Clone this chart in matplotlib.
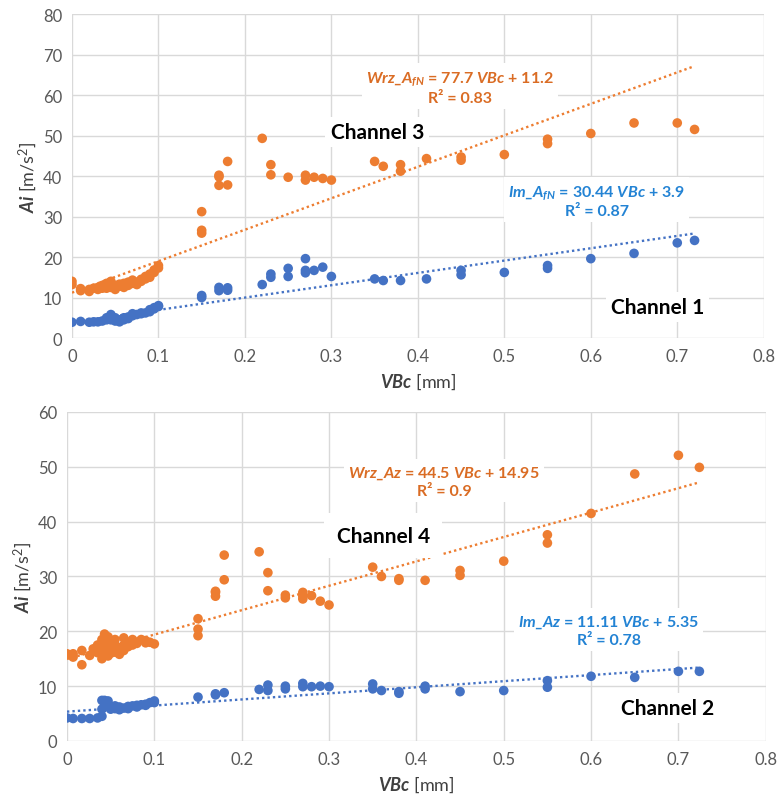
import matplotlib
matplotlib.use("Agg")
import matplotlib.pyplot as plt
import numpy as np

plt.rcParams['font.family'] = ['Lato', 'DejaVu Sans']
plt.rcParams['mathtext.fontset'] = 'custom'
plt.rcParams['mathtext.rm'] = 'Lato'
plt.rcParams['mathtext.it'] = 'Lato:italic'
plt.rcParams['mathtext.bf'] = 'Lato:bold'
plt.rcParams['mathtext.bfit'] = 'Lato:bold:italic'

# ---------------- data: top chart (Channel 3 / Channel 1) ----------------
top_wrz_x = [0, 0, 0.01, 0.01, 0.02, 0.02, 0.025, 0.03, 0.03, 0.035, 0.035,
             0.04, 0.04, 0.04, 0.045, 0.045, 0.045, 0.05, 0.05, 0.05, 0.055, 0.055,
             0.06, 0.06, 0.065, 0.065, 0.07, 0.07, 0.075, 0.075, 0.08, 0.08,
             0.085, 0.085, 0.09, 0.09, 0.095, 0.095, 0.1, 0.1,
             0.15, 0.15, 0.15, 0.17, 0.17, 0.17, 0.18, 0.18, 0.22, 0.23, 0.23,
             0.25, 0.27, 0.27, 0.28, 0.29, 0.30, 0.35, 0.36, 0.38, 0.38, 0.41,
             0.45, 0.45, 0.5, 0.55, 0.55, 0.6, 0.65, 0.70, 0.72]
top_wrz_y = [13.2, 14.0, 11.7, 12.2, 11.5, 12.0, 12.3, 12.5, 12.0, 13.0, 12.3,
             13.5, 12.8, 12.3, 14.0, 13.2, 12.5, 13.0, 12.0, 12.6, 12.8, 13.3,
             12.5, 13.5, 13.0, 13.8, 13.5, 14.3, 13.8, 13.2, 14.5, 14.0,
             14.6, 15.2, 15.0, 15.8, 16.2, 16.8, 17.3, 17.9,
             31.2, 26.6, 25.9, 39.8, 37.7, 40.2, 43.6, 37.8, 49.3, 42.8, 40.3,
             39.7, 40.2, 39.0, 39.7, 39.4, 39.0, 43.6, 42.4, 42.8, 41.2, 44.3,
             44.7, 43.9, 45.3, 49.1, 48.0, 50.5, 53.1, 53.1, 51.5]

top_im_x = [0, 0.01, 0.02, 0.025, 0.03, 0.035, 0.04, 0.04, 0.045, 0.045, 0.045,
            0.05, 0.05, 0.055, 0.055, 0.06, 0.06, 0.065, 0.065, 0.07, 0.07, 0.075,
            0.08, 0.08, 0.085, 0.09, 0.09, 0.095, 0.095, 0.1, 0.1,
            0.15, 0.15, 0.17, 0.17, 0.18, 0.18, 0.22, 0.23, 0.23, 0.25, 0.25,
            0.27, 0.27, 0.27, 0.28, 0.29, 0.30, 0.35, 0.36, 0.38, 0.41,
            0.45, 0.45, 0.5, 0.55, 0.55, 0.6, 0.65, 0.70, 0.72]
top_im_y = [3.9, 4.1, 3.9, 4.0, 4.0, 4.2, 4.5, 5.0, 5.8, 5.2, 4.5,
            5.0, 4.2, 4.5, 4.0, 4.5, 5.0, 5.2, 4.8, 5.5, 6.0, 5.8,
            6.0, 6.2, 6.2, 6.5, 7.0, 7.5, 7.2, 8.0, 7.8,
            10.5, 10.0, 12.5, 11.7, 12.4, 11.8, 13.2, 15.8, 15.0, 17.2, 15.2,
            19.6, 16.7, 16.1, 16.7, 17.5, 15.2, 14.6, 14.2, 14.2, 14.6,
            16.7, 15.6, 16.2, 17.9, 17.2, 19.6, 20.9, 23.5, 24.1]

# ---------------- data: bottom chart (Channel 4 / Channel 2) ----------------
bot_wrz_x = [0, 0.007, 0.007, 0.017, 0.017, 0.026, 0.03, 0.035, 0.035,
             0.04, 0.04, 0.04, 0.043, 0.043, 0.043, 0.047, 0.047, 0.047,
             0.05, 0.05, 0.05, 0.055, 0.055, 0.055, 0.06, 0.06, 0.065, 0.065, 0.065,
             0.07, 0.07, 0.075, 0.075, 0.08, 0.08, 0.085, 0.09, 0.09, 0.095, 0.1,
             0.15, 0.15, 0.15, 0.17, 0.17, 0.17, 0.18, 0.18, 0.22, 0.23, 0.23,
             0.25, 0.25, 0.27, 0.27, 0.27, 0.28, 0.29, 0.30, 0.35, 0.36, 0.38, 0.38,
             0.41, 0.45, 0.45, 0.5, 0.55, 0.55, 0.6, 0.65, 0.70, 0.724]
bot_wrz_y = [15.9, 15.9, 15.3, 16.5, 13.9, 15.6, 16.8, 16.1, 17.5,
             15.0, 18.5, 17.0, 19.5, 18.8, 16.5, 19.0, 17.8, 15.5,
             18.0, 16.8, 16.0, 17.5, 16.2, 18.5, 17.0, 15.8, 18.8, 17.5, 16.5,
             18.0, 17.2, 18.5, 17.5, 18.0, 17.8, 18.5, 18.3, 17.9, 18.0, 17.7,
             22.3, 20.4, 19.2, 27.1, 26.4, 27.3, 33.9, 29.4, 34.5, 30.7, 27.4,
             26.6, 26.1, 27.1, 26.4, 25.9, 26.5, 25.5, 24.8, 31.7, 30.0, 29.6, 29.3,
             29.3, 31.1, 30.2, 32.8, 37.6, 36.1, 41.5, 48.7, 52.1, 49.9]

bot_im_x = [0, 0.007, 0.017, 0.026, 0.035, 0.04, 0.04, 0.04, 0.043, 0.043, 0.043,
            0.047, 0.047, 0.05, 0.05, 0.055, 0.055, 0.06, 0.06, 0.065, 0.07, 0.07,
            0.075, 0.08, 0.08, 0.085, 0.09, 0.09, 0.095, 0.1, 0.1,
            0.15, 0.17, 0.17, 0.18, 0.22, 0.23, 0.23, 0.25, 0.25, 0.27, 0.27,
            0.28, 0.29, 0.30, 0.35, 0.35, 0.36, 0.38, 0.38, 0.41, 0.41, 0.45,
            0.5, 0.55, 0.55, 0.6, 0.65, 0.70, 0.724]
bot_im_y = [4.2, 4.1, 4.1, 4.1, 4.2, 4.5, 5.8, 7.4, 7.4, 6.8, 6.2,
            7.3, 6.5, 6.2, 5.8, 6.4, 5.9, 6.2, 5.7, 6.0, 6.3, 5.9,
            6.4, 6.5, 6.2, 6.6, 6.7, 6.5, 7.0, 7.3, 7.0,
            8.0, 8.6, 8.4, 8.8, 9.4, 10.2, 9.2, 10.0, 9.5, 10.5, 9.9,
            9.9, 10.0, 9.9, 10.4, 9.5, 9.2, 9.0, 8.7, 10.0, 9.5, 9.0,
            9.2, 11.0, 9.8, 11.8, 11.6, 12.7, 12.7]

# trendline coefficients (slope, intercept) as printed on the chart
top_wrz_fit = (77.7, 11.2)
top_im_fit = (30.44, 3.9)
bot_wrz_fit = (44.5, 14.95)
bot_im_fit = (11.11, 5.35)

x_ticks = [0, 0.1, 0.2, 0.3, 0.4, 0.5, 0.6, 0.7, 0.8]
x_ticklabels = ['0', '0.1', '0.2', '0.3', '0.4', '0.5', '0.6', '0.7', '0.8']
top_yticks = [0, 10, 20, 30, 40, 50, 60, 70, 80]
bot_yticks = [0, 10, 20, 30, 40, 50, 60]

ORANGE = '#ED7D31'
BLUE = '#4472C4'
ORANGE_TXT = '#DA6C24'
BLUE_TXT = '#2383D4'
GRID = '#D9D9D9'
TICK = '#595959'

fig = plt.figure(figsize=(7.79, 8.03), dpi=100)
ax1 = fig.add_axes([0.0924, 0.5778, 0.888, 0.4035])
ax2 = fig.add_axes([0.086, 0.0760, 0.897, 0.4097])

box = dict(boxstyle='square,pad=0.25', facecolor='white', edgecolor='none')


def style(ax, yticks):
    ax.set_xlim(0, 0.8)
    ax.set_ylim(yticks[0], yticks[-1])
    ax.set_xticks(x_ticks)
    ax.set_xticklabels(x_ticklabels)
    ax.set_yticks(yticks)
    ax.grid(True, color=GRID, linewidth=1.0, zorder=0)
    ax.set_axisbelow(True)
    for s in ax.spines.values():
        s.set_visible(False)
    ax.tick_params(length=0, labelsize=12, labelcolor=TICK, pad=7)
    ax.set_xlabel(r'$\mathbfit{VBc}$ [mm]', fontsize=13, color='#404040', labelpad=5)
    ax.set_ylabel(r'$\mathbfit{Ai}$ [m/s$^2$]', fontsize=13, color='#404040', labelpad=3)


def series(ax, x, y, color, fit):
    ax.scatter(x, y, s=48, color=color, edgecolors='none', zorder=3)
    xs = np.array([0, max(x)])
    ax.plot(xs, fit[0] * xs + fit[1], linestyle=(0, (1, 1.3)), color=color,
            linewidth=1.7, zorder=2)


style(ax1, top_yticks)
series(ax1, top_wrz_x, top_wrz_y, ORANGE, top_wrz_fit)
series(ax1, top_im_x, top_im_y, BLUE, top_im_fit)

ax1.text(0.449, 62.0, r'$\mathbfit{Wrz\_A_{fN}}$ = 77.7 $\mathbfit{VBc}$ + 11.2' + '\n' + 'R² = 0.83',
         ha='center', va='center', fontsize=11.5, fontweight='bold', color=ORANGE_TXT,
         linespacing=1.3, bbox=box, zorder=4)
ax1.text(0.607, 33.9, r'$\mathbfit{Im\_A_{fN}}$ = 30.44 $\mathbfit{VBc}$ + 3.9' + '\n' + 'R² = 0.87',
         ha='center', va='center', fontsize=11.5, fontweight='bold', color=BLUE_TXT,
         linespacing=1.3, bbox=box, zorder=4)
ax1.text(0.353, 50.9, 'Channel 3', ha='center', va='center', fontsize=15,
         fontweight='bold', color='black', bbox=box, zorder=4)
ax1.text(0.677, 7.7, 'Channel 1', ha='center', va='center', fontsize=15,
         fontweight='bold', color='black', bbox=box, zorder=4)

style(ax2, bot_yticks)
series(ax2, bot_wrz_x, bot_wrz_y, ORANGE, bot_wrz_fit)
series(ax2, bot_im_x, bot_im_y, BLUE, bot_im_fit)

ax2.text(0.432, 47.4, r'$\mathbfit{Wrz\_Az}$ = 44.5 $\mathbfit{VBc}$ + 14.95' + '\n' + 'R² = 0.9',
         ha='center', va='center', fontsize=11.5, fontweight='bold', color=ORANGE_TXT,
         linespacing=1.3, bbox=box, zorder=4)
ax2.text(0.62, 20.2, r'$\mathbfit{Im\_Az}$ = 11.11 $\mathbfit{VBc}$ + 5.35' + '\n' + 'R² = 0.78',
         ha='center', va='center', fontsize=11.5, fontweight='bold', color=BLUE_TXT,
         linespacing=1.3, bbox=box, zorder=4)
ax2.text(0.362, 37.4, 'Channel 4', ha='center', va='center', fontsize=15,
         fontweight='bold', color='black', bbox=dict(boxstyle='square,pad=0.6',
         facecolor='white', edgecolor='none'), zorder=4)
ax2.text(0.688, 6.0, 'Channel 2', ha='center', va='center', fontsize=15,
         fontweight='bold', color='black', bbox=box, zorder=4)

fig.savefig('out.png', dpi=100)
